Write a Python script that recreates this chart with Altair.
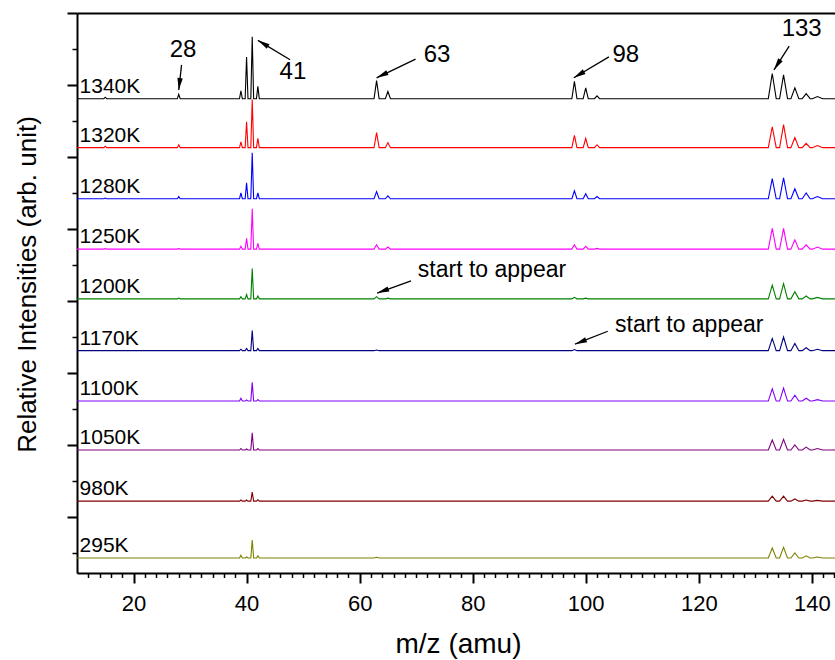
import math
import altair as alt
import pandas as pd

# ---- spectra -------------------------------------------------------------
temps = ["1340K", "1320K", "1280K", "1250K", "1200K",
         "1170K", "1100K", "1050K", "980K", "295K"]
colors = ["#000000", "#ff0000", "#0000ff", "#ff00ff", "#008000",
          "#000080", "#8000ff", "#800080", "#800000", "#808000"]
# vertical offset of each trace (arb. unit)
offsets = [58.1, 51.3, 44.2, 37.2, 30.3, 23.1, 16.1, 9.3, 2.2, -5.7]

# peak positions (amu) and their half widths at the base (amu)
masses = [15, 28, 39, 40, 41, 42, 63, 65, 98, 100, 102, 133, 135, 137, 139, 141]
half_width = [0.25, 0.25, 0.25, 0.25, 0.25, 0.25,
              0.45, 0.45, 0.45, 0.45, 0.45,
              0.7, 0.7, 0.7, 0.7, 0.9]

# peak heights above each trace's baseline (arb. unit)
h_1340 = [0.2, 0.6, 1.1, 5.8, 8.6, 1.7, 2.5, 1.0, 2.4, 1.5, 0.4, 3.5, 3.3, 1.5, 0.7, 0.3]
h_1320 = [0.2, 0.4, 0.8, 3.6, 6.7, 1.3, 2.1, 0.7, 1.7, 1.3, 0.4, 2.9, 3.2, 1.4, 0.6, 0.3]
h_1280 = [0.1, 0.3, 0.8, 2.2, 6.4, 0.8, 1.0, 0.4, 1.1, 0.7, 0.3, 2.8, 2.9, 1.4, 0.8, 0.3]
h_1250 = [0.1, 0.1, 0.4, 1.5, 5.6, 0.8, 0.6, 0.3, 0.6, 0.4, 0.1, 2.9, 2.9, 1.3, 0.6, 0.3]
h_1200 = [0.0, 0.1, 0.3, 0.6, 4.2, 0.4, 0.3, 0.1, 0.2, 0.1, 0.0, 1.9, 2.1, 1.0, 0.4, 0.2]
h_1170 = [0.0, 0.0, 0.2, 0.3, 2.8, 0.3, 0.1, 0.0, 0.15, 0.0, 0.0, 1.7, 1.9, 1.0, 0.4, 0.2]
h_1100 = [0.0, 0.0, 0.4, 0.15, 2.6, 0.2, 0.0, 0.0, 0.0, 0.0, 0.0, 1.7, 1.8, 0.8, 0.4, 0.2]
h_1050 = [0.0, 0.0, 0.2, 0.15, 2.4, 0.2, 0.0, 0.0, 0.0, 0.0, 0.0, 1.4, 1.5, 0.7, 0.4, 0.2]
h_980 = [0.0, 0.0, 0.15, 0.15, 1.25, 0.2, 0.0, 0.0, 0.0, 0.0, 0.0, 0.7, 0.7, 0.3, 0.15, 0.1]
h_295 = [0.0, 0.0, 0.4, 0.15, 2.5, 0.3, 0.1, 0.0, 0.0, 0.0, 0.0, 1.4, 1.5, 0.7, 0.3, 0.15]
heights = [h_1340, h_1320, h_1280, h_1250, h_1200,
           h_1170, h_1100, h_1050, h_980, h_295]

# ---- annotations ----------------------------------------------------------
ann_text = ["28", "41", "63", "98", "133"]
ann_x = [28.75, 48.2, 73.7, 107.1, 138.2]
ann_y = [64.9, 61.8, 64.2, 64.2, 67.8]

note_text = ["start to appear", "start to appear"]
note_x = [70.3, 105.2]
note_y = [33.3, 25.7]

arrow_x1 = [28.5, 47.7, 69.9, 104.1, 136.0, 69.1, 103.9]
arrow_y1 = [62.8, 63.5, 63.6, 63.9, 65.4, 32.8, 25.8]
arrow_x2 = [28.0, 42.0, 63.0, 97.9, 133.3, 63.1, 98.1]
arrow_y2 = [59.3, 66.2, 61.0, 61.0, 62.1, 31.1, 24.0]

# ---- layout ---------------------------------------------------------------
X_MIN, X_MAX = 10, 144.1
Y_MIN, Y_MAX = -7.78, 70
W, H = 758, 560
FONT = "Liberation Sans"

# line vertices: flat baseline with a narrow triangle for every peak
rows = []
for t, off, hs in zip(temps, offsets, heights):
    rows.append({"temp": t, "mz": X_MIN, "y": off})
    for m, hw, h in zip(masses, half_width, hs):
        if h <= 0:
            continue
        rows.append({"temp": t, "mz": m - hw, "y": off})
        rows.append({"temp": t, "mz": m, "y": off + h})
        rows.append({"temp": t, "mz": m + hw, "y": off})
    rows.append({"temp": t, "mz": X_MAX, "y": off})
spectra = pd.DataFrame(rows)

labels = pd.DataFrame({"temp": temps, "mz": [10.45] * len(temps), "y": offsets})
ann = pd.DataFrame({"text": ann_text, "mz": ann_x, "y": ann_y})
notes = pd.DataFrame({"text": note_text, "mz": note_x, "y": note_y})

px_x = W / (X_MAX - X_MIN)
px_y = H / (Y_MAX - Y_MIN)
angles = []
for x1, y1, x2, y2 in zip(arrow_x1, arrow_y1, arrow_x2, arrow_y2):
    dx = (x2 - x1) * px_x
    dy = -(y2 - y1) * px_y
    angles.append(math.degrees(math.atan2(dx, -dy)) % 360)
arrows = pd.DataFrame({"x1": arrow_x1, "y1": arrow_y1,
                       "x2": arrow_x2, "y2": arrow_y2, "angle": angles})

xs = alt.Scale(domain=[X_MIN, X_MAX], nice=False, zero=False)
ys = alt.Scale(domain=[Y_MIN, Y_MAX], nice=False, zero=False)

x_major = alt.Axis(orient="bottom", values=list(range(20, 141, 20)),
                   tickSize=10, tickWidth=2, tickColor="black",
                   domainWidth=2, domainColor="black", grid=False,
                   labelFont=FONT, labelFontSize=22, labelColor="black",
                   labelBaseline="alphabetic", labelPadding=27, labelFlush=False,
                   title="m/z (amu)", titleFont=FONT, titleFontSize=28,
                   titleFontWeight="normal", titleColor="black",
                   titleBaseline="alphabetic", titleX=381, titleY=79,
                   titleAlign="center")
x_minor = alt.Axis(orient="bottom",
                   values=[v for v in range(12, 145, 2) if v % 20 != 0],
                   tickSize=4.5, tickWidth=1.5, tickColor="black",
                   labels=False, domain=False, grid=False, title=None)
x_top = alt.Axis(orient="top", ticks=False, labels=False, grid=False,
                 domainWidth=2, domainColor="black", title=None)
y_major = alt.Axis(orient="left", values=list(range(0, 71, 10)),
                   tickSize=10, tickWidth=2, tickColor="black",
                   domainWidth=2, domainColor="black", grid=False, labels=False,
                   title="Relative Intensities (arb. unit)", titleFont=FONT,
                   titleFontSize=26, titleFontWeight="normal", titleColor="black",
                   titleBaseline="alphabetic", titleAngle=270,
                   titleX=-42, titleY=271, titleAlign="center")
y_minor = alt.Axis(orient="left", values=list(range(-5, 66, 10)),
                   tickSize=5, tickWidth=1.5, tickColor="black",
                   labels=False, domain=False, grid=False, title=None)

color = alt.Color("temp:N", scale=alt.Scale(domain=temps, range=colors), legend=None)

lines = alt.Chart(spectra).mark_line(strokeWidth=1.1).encode(
    x=alt.X("mz:Q", scale=xs, axis=x_major),
    y=alt.Y("y:Q", scale=ys, axis=y_major),
    color=color,
)

temp_labels = alt.Chart(labels).mark_text(
    align="left", baseline="alphabetic", dy=-6, font=FONT, fontSize=21, color="black"
).encode(
    x=alt.X("mz:Q", scale=xs, axis=x_minor),
    y=alt.Y("y:Q", scale=ys, axis=y_minor),
    text="temp:N",
)

peak_labels = alt.Chart(ann).mark_text(
    align="center", baseline="middle", font=FONT, fontSize=24, color="black"
).encode(
    x=alt.X("mz:Q", scale=xs, axis=x_top),
    y=alt.Y("y:Q", scale=ys, axis=None),
    text="text:N",
)

note_labels = alt.Chart(notes).mark_text(
    align="left", baseline="alphabetic", font=FONT, fontSize=23, color="black"
).encode(
    x=alt.X("mz:Q", scale=xs, axis=None),
    y=alt.Y("y:Q", scale=ys, axis=None),
    text="text:N",
)

shafts = alt.Chart(arrows).mark_rule(color="black", strokeWidth=1.3).encode(
    x=alt.X("x1:Q", scale=xs, axis=None),
    y=alt.Y("y1:Q", scale=ys, axis=None),
    x2="x2:Q",
    y2="y2:Q",
)

heads = alt.Chart(arrows).mark_point(
    shape="M0,0L-0.45,2L0.45,2Z", size=144, filled=True, color="black", opacity=1
).encode(
    x=alt.X("x2:Q", scale=xs, axis=None),
    y=alt.Y("y2:Q", scale=ys, axis=None),
    angle=alt.Angle("angle:Q", scale=None),
)

chart = alt.layer(
    lines, temp_labels, peak_labels, note_labels, shafts, heads
).resolve_axis(
    x="independent", y="independent"
).properties(
    width=W, height=H,
    autosize=alt.AutoSizeParams(type="none"),
    padding={"left": 77, "top": 13, "right": 0, "bottom": 87},
).configure_view(stroke=None).configure(background="white")

chart.save("out.html", embed_options={"renderer": "svg", "actions": False})
